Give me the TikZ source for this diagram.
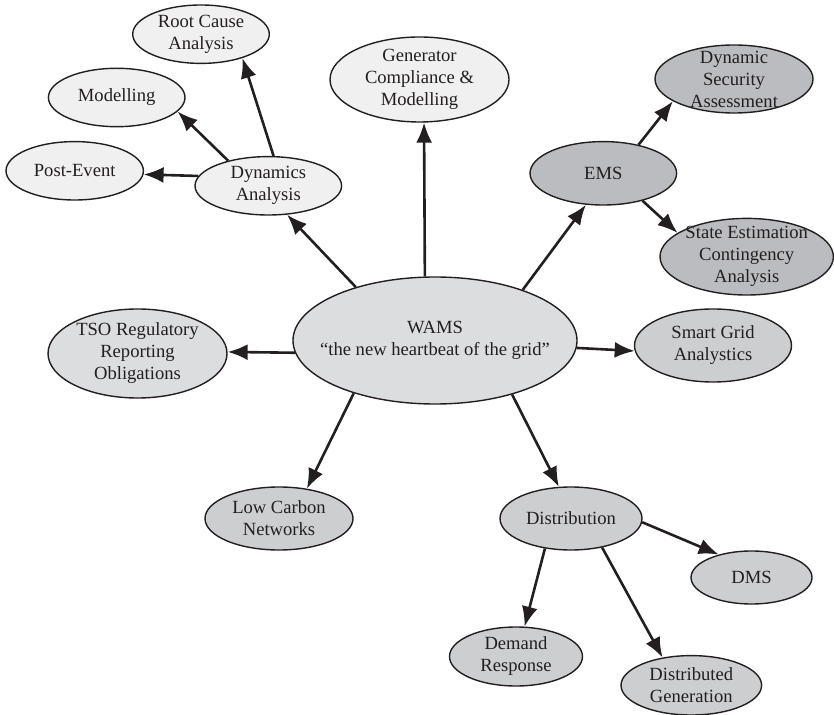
\documentclass[tikz,border=0pt]{standalone}
\usepackage{fontspec}
\setmainfont{Liberation Serif}
\usetikzlibrary{shapes.geometric,arrows.meta}
\definecolor{inkc}{HTML}{231F20}
\definecolor{fillA}{HTML}{F0F0F1}
\definecolor{fillB}{HTML}{DCDDDF}
\definecolor{fillC}{HTML}{CDCED0}
\definecolor{fillD}{HTML}{BBBCBF}
% \bubblenode{name}{x,y}{rx}{ry}{fill}{text}  (coordinates and radii in px units)
\newcommand\bubblenode[6]{%
  \node[bub, fill=#5, minimum width=#3pt, minimum height=#4pt,
        label={[txt]center:{#6}}] (#1) at (#2) {};}
\begin{document}
\begin{tikzpicture}[x=0.5pt,y=-0.5pt,
  bub/.style={ellipse, draw=inkc, line width=0.7pt, inner sep=0pt},
  txt/.style={align=center, font=\fontsize{9.3}{11}\selectfont, text=inkc, inner sep=0pt},
  link/.style={draw=inkc, line width=1.3pt, -{Latex[length=10pt,width=8pt]}}
]
\useasboundingbox (0,0) rectangle (834,715);

% central hub
\bubblenode{wams}{435,340.5}{142}{63.5}{fillB}{WAMS\\“the new heartbeat of the grid”}

% dynamics branch
\bubblenode{dyn}{268.3,185.8}{73.3}{29.2}{fillA}{Dynamics\\Analysis}
\bubblenode{root}{201,34.2}{68.3}{29.2}{fillA}{Root Cause\\Analysis}
\bubblenode{model}{116.7,97.5}{68.3}{29.2}{fillA}{Modelling}
\bubblenode{post}{74.7,170.8}{68.7}{29.2}{fillA}{Post-Event}
\bubblenode{gen}{419.5,79.5}{89.5}{42.5}{fillA}{Generator\\Compliance \&\\Modelling}

% EMS branch
\bubblenode{ems}{603.3,173.3}{73.3}{31.7}{fillD}{EMS}
\bubblenode{dsa}{734,79}{79}{34}{fillD}{Dynamic\\Security\\Assessment}
\bubblenode{se}{746.7,256.7}{86.7}{38.3}{fillD}{State Estimation\\Contingency\\Analysis}

% side nodes
\bubblenode{tso}{137.5,353.5}{89.5}{44.5}{fillB}{TSO Regulatory\\Reporting\\Obligations}
\bubblenode{smart}{713,345.5}{78.5}{36.5}{fillC}{Smart Grid\\Analystics}
\bubblenode{low}{279,518.5}{74}{31.5}{fillC}{Low Carbon\\Networks}

% distribution branch
\bubblenode{dist}{571,518.5}{71}{31.5}{fillC}{Distribution}
\bubblenode{dms}{751.5,577.5}{60.5}{26.5}{fillC}{DMS}
\bubblenode{dr}{516,656.5}{66.5}{29.5}{fillC}{Demand\\Response}
\bubblenode{dg}{691.3,685.3}{70.3}{29.7}{fillC}{Distributed\\Generation}

% connectors
\draw[link] (wams.146.7) -- (dyn.-57.9);
\draw[link] (wams.99.8)  -- (gen.-84);
\draw[link] (wams.30.2)  -- (ems.-119.2);
\draw[link] (wams.185)   -- (tso.1);
\draw[link] (wams.-3.8)  -- (smart.184);
\draw[link] (wams.-147)  -- (low.47);
\draw[link] (wams.-35.3) -- (dist.111);

\draw[link] (dyn.80)    -- (root.-30.2);
\draw[link] (dyn.148.2) -- (model.-13);
\draw[link] (dyn.172.8) -- (post.-3.5);

\draw[link] (ems.39.6)  -- (dsa.-160.2);
\draw[link] (ems.-35.3) -- (se.161.9);

\draw[link] (dist.-3)     -- (dms.145.7);
\draw[link] (dist.-131.4) -- (dr.74);
\draw[link] (dist.-43.8)  -- (dg.136);
\end{tikzpicture}
\end{document}
